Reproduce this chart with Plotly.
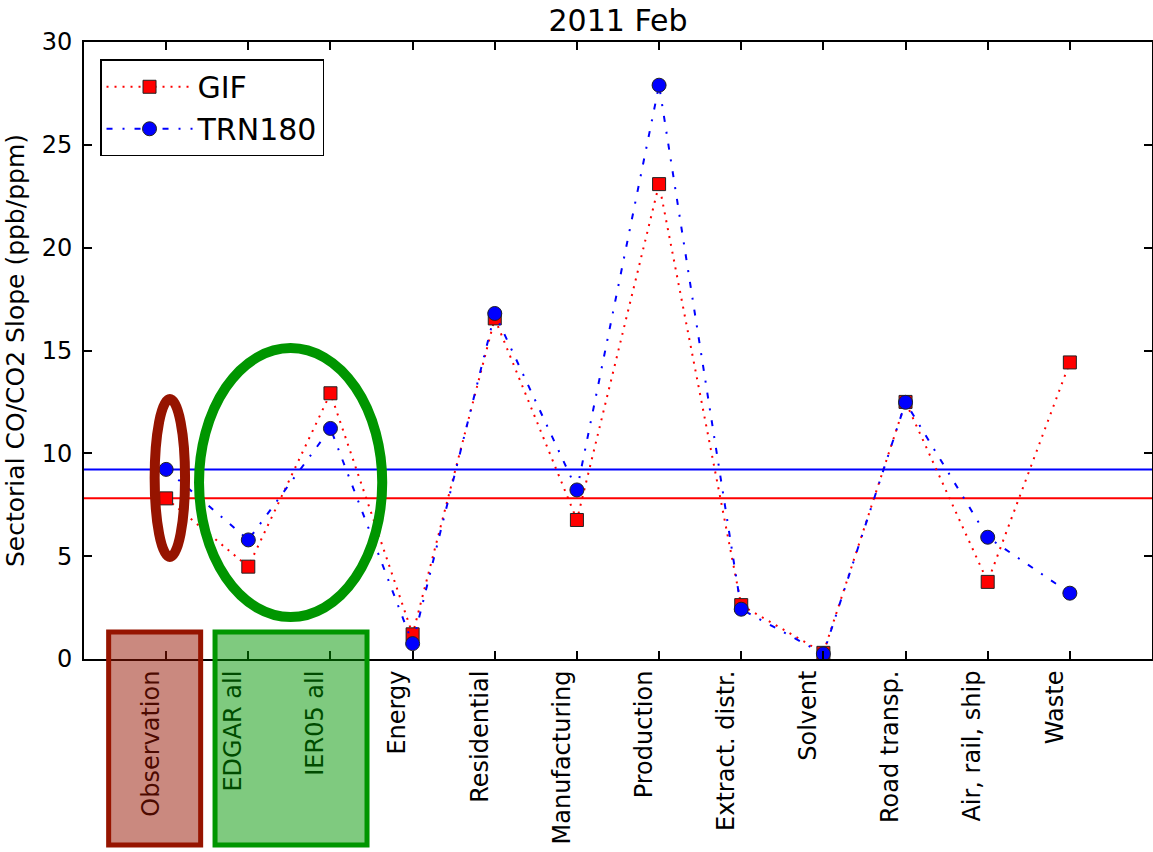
import plotly.graph_objects as go

# Sector categories along the x axis
categories = ["Observation", "EDGAR all", "IER05 all", "Energy", "Residential",
              "Manufacturing", "Production", "Extract. distr.", "Solvent",
              "Road transp.", "Air, rail, ship", "Waste"]

# Sectorial CO/CO2 slopes (ppb/ppm) for the two sites
gif_values = [7.81, 4.49, 12.92, 1.2, 16.56, 6.76, 23.09, 2.62, 0.3, 12.5, 3.75, 14.42]
trn180_values = [9.22, 5.79, 11.21, 0.75, 16.8, 8.22, 27.9, 2.42, 0.25, 12.48, 5.92, 3.2]

y_ticks = [0, 5, 10, 15, 20, 25, 30]

X_RANGE = [-1, 12]
Y_RANGE = [0, 30]
FONT = "DejaVu Sans"

DARK_RED = "rgb(150,20,0)"
DARK_RED_FILL = "rgba(150,20,0,0.5)"
GREEN = "rgb(0,150,0)"
GREEN_FILL = "rgba(0,150,0,0.5)"

xs = list(range(len(categories)))

fig = go.Figure()

fig.add_trace(go.Scatter(
    x=xs, y=gif_values, name="GIF", mode="lines+markers",
    line=dict(color="#ff0000", width=2, dash="2px,6px"),
    marker=dict(symbol="square", size=13, color="#ff0000",
                line=dict(color="#222222", width=1)),
))
fig.add_trace(go.Scatter(
    x=xs, y=trn180_values, name="TRN180", mode="lines+markers",
    line=dict(color="#0000ff", width=2, dash="6px,10px,2px,10px"),
    marker=dict(symbol="circle", size=14, color="#0000ff",
                line=dict(color="#222222", width=1)),
))

# Observed slopes as reference levels across the plot
fig.add_hline(y=trn180_values[0], line=dict(color="#0000ff", width=2), layer="below")
fig.add_hline(y=gif_values[0], line=dict(color="#ff0000", width=2), layer="below")


def xpaper(xv):
    return (xv - X_RANGE[0]) / (X_RANGE[1] - X_RANGE[0])


# Ellipses grouping the observation and the inventory totals
fig.add_shape(type="circle", xref="x", yref="y",
              x0=-0.14, x1=0.23, y0=4.96, y1=12.64,
              line=dict(color=DARK_RED, width=10), layer="above")
fig.add_shape(type="circle", xref="x", yref="y",
              x0=0.40, x1=2.63, y0=2.04, y1=15.12,
              line=dict(color=GREEN, width=10), layer="above")

# Highlight boxes over the corresponding tick labels
fig.add_shape(type="rect", xref="paper", yref="paper",
              x0=xpaper(-0.70), x1=xpaper(0.42), y0=-0.3015, y1=0.0438,
              line=dict(color=DARK_RED, width=5), fillcolor=DARK_RED_FILL,
              layer="above")
fig.add_shape(type="rect", xref="paper", yref="paper",
              x0=xpaper(0.595), x1=xpaper(2.445), y0=-0.3015, y1=0.0438,
              line=dict(color=GREEN, width=5), fillcolor=GREEN_FILL,
              layer="above")

axis_common = dict(
    showline=True, linecolor="black", linewidth=2, mirror="allticks",
    ticks="inside", ticklen=8, tickwidth=1.5, tickcolor="black",
    showgrid=False, zeroline=False,
    tickfont=dict(family=FONT, size=24, color="black"),
)

fig.update_xaxes(
    range=X_RANGE, tickvals=xs, ticktext=categories, tickangle=-90,
    ticklabelshift=-15, automargin=False, **axis_common,
)
fig.update_yaxes(
    range=Y_RANGE, tickvals=y_ticks, automargin=False, ticklabelstandoff=5,
    title=dict(text="Sectorial CO/CO2 Slope (ppb/ppm)",
               font=dict(family=FONT, size=25, color="black"), standoff=10),
    **axis_common,
)

fig.update_layout(
    width=1153, height=852,
    margin=dict(l=84, r=1, t=42, b=193),
    plot_bgcolor="white", paper_bgcolor="white",
    font=dict(family=FONT, color="black"),
    title=dict(text="2011 Feb", x=0.536, xanchor="center",
               y=1 - 20 / 852, yanchor="middle", yref="container",
               font=dict(family=FONT, size=30, color="black")),
    legend=dict(x=0.015, y=0.972, xanchor="left", yanchor="top",
                bgcolor="white", bordercolor="black", borderwidth=1.5,
                font=dict(family=FONT, size=30, color="black"),
                itemwidth=86),
    showlegend=True,
)

fig.write_html("out.html")
